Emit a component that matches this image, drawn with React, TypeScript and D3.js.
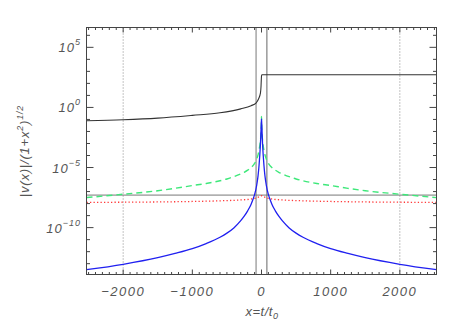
import React from "react";
import * as d3 from "d3";

// ---- data ----
const xTicksMajor = [-2000, -1000, 0, 1000, 2000];
const xTickLabels = ["\u22122000", "\u22121000", "0", "1000", "2000"];
const yTickExps = [-10, -5, 0, 5];
const yTickLabels = ["\u221210", "\u22125", "0", "5"];

const blackX = [-2530, -2000, -1500, -1000, -600, -300, -150, -80, -40, -15, -7, -3, 0, 5, 2530];
const blackY = [0.078, 0.095, 0.13, 0.22, 0.36, 0.76, 1.4, 2.3, 5.5, 16, 56, 200, 400, 525, 525];

const symX = [-2530, -2000, -1500, -1250, -1000, -800, -600, -500, -400, -300, -250, -200, -150, -120, -100, -70, -50, -35, -25, -15, -8, -3, 0,
  3, 8, 15, 25, 35, 50, 70, 100, 120, 150, 200, 250, 300, 400, 500, 600, 800, 1000, 1250, 1500, 2000, 2530];
const blueY = [3.16e-14, 8.9e-14, 3.16e-13, 7.1e-13, 1.78e-12, 4.7e-12, 1.58e-11, 3.5e-11, 9.5e-11, 3.8e-10, 8.9e-10, 2.5e-9, 8.9e-9, 2.5e-8, 5.6e-8, 3.2e-7, 2.0e-6, 1.6e-5, 1.0e-4, 1.0e-3, 1.0e-2, 5.0e-2, 0.11,
  5.0e-2, 1.0e-2, 1.0e-3, 1.0e-4, 1.6e-5, 2.0e-6, 3.2e-7, 5.6e-8, 2.5e-8, 8.9e-9, 2.5e-9, 8.9e-10, 3.8e-10, 9.5e-11, 3.5e-11, 1.58e-11, 4.7e-12, 1.78e-12, 7.1e-13, 3.16e-13, 8.9e-14, 3.16e-14];
const greenY = [3.16e-8, 6.0e-8, 1.17e-7, 1.86e-7, 3.16e-7, 4.7e-7, 7.9e-7, 1.12e-6, 1.74e-6, 2.95e-6, 4.0e-6, 6.0e-6, 1.0e-5, 1.5e-5, 2.2e-5, 5.0e-5, 1.12e-4, 2.8e-4, 6.3e-4, 1.9e-3, 6.3e-3, 3.2e-2, 0.18,
  3.2e-2, 6.3e-3, 1.9e-3, 6.3e-4, 2.8e-4, 1.12e-4, 5.0e-5, 2.2e-5, 1.5e-5, 1.0e-5, 6.0e-6, 4.0e-6, 2.95e-6, 1.74e-6, 1.12e-6, 7.9e-7, 4.7e-7, 3.16e-7, 1.86e-7, 1.17e-7, 6.0e-8, 3.16e-8];

const redX = [-2530, -2000, -1000, -600, -300, -150, -60, -20, 0, 20, 60, 150, 300, 600, 1000, 2000, 2530];
const redY = [1.26e-8, 1.3e-8, 1.5e-8, 1.7e-8, 2.0e-8, 2.4e-8, 3.2e-8, 4.0e-8, 4.5e-8, 4.0e-8, 3.2e-8, 2.4e-8, 2.0e-8, 1.7e-8, 1.5e-8, 1.3e-8, 1.26e-8];

const hLineY = 5.1e-8;
const vLinesSolid = [-78, 78];
const vLinesDotted = [-2000, 2000];

const W = 463, H = 331;
const L = 86.5, R = 436.5, T = 27.5, B = 274.5;

export default function App() {
  const x = d3.scaleLinear().domain([-2530, 2530]).range([L, R]);
  const y = d3.scaleLog().domain([Math.pow(10, -13.9), Math.pow(10, 6.65)]).range([B, T]);
  const line = d3.line<[number, number]>().x(d => x(d[0])).y(d => y(d[1])).curve(d3.curveMonotoneX);
  const pts = (xs: number[], ys: number[]) => xs.map((v, i) => [v, ys[i]] as [number, number]);

  const xMinor = d3.range(-2500, 2501, 100);
  const yMinor = d3.range(-13, 7, 1);
  const txt = "#555";
  const ax = "#444";
  const font = "'Liberation Sans', Arial, sans-serif";

  return (
    <svg width={W} height={H} style={{ position: "absolute", left: 0, top: 0, background: "#fff" }}>
      <defs>
        <clipPath id="clip"><rect x={L} y={T} width={R - L} height={B - T} /></clipPath>
      </defs>
      <g clipPath="url(#clip)">
        {vLinesDotted.map(v => (
          <line key={v} x1={x(v)} x2={x(v)} y1={T} y2={B} stroke="#888" strokeWidth={1} strokeDasharray="1,2" />
        ))}
        <line x1={x(vLinesSolid[0])} x2={x(vLinesSolid[0])} y1={T} y2={B} stroke="#b4b4b4" strokeWidth={1.8} />
        <line x1={x(vLinesSolid[1])} x2={x(vLinesSolid[1])} y1={T} y2={B} stroke="#666" strokeWidth={1} />
        <line x1={L} x2={R} y1={y(hLineY)} y2={y(hLineY)} stroke="#777" strokeWidth={1} />
        <path d={line(pts(redX, redY)) || ""} fill="none" stroke="#ff3b3b" strokeWidth={1.3} strokeDasharray="1.3,2.2" />
        <path d={line(pts(symX, greenY)) || ""} fill="none" stroke="#3ee87a" strokeWidth={1.4} strokeDasharray="6,4" />
        <path d={line(pts(symX, blueY)) || ""} fill="none" stroke="#2020f0" strokeWidth={1.3} />
        <path d={line(pts(blackX, blackY)) || ""} fill="none" stroke="#333" strokeWidth={1.1} />
      </g>
      {/* frame */}
      <rect x={L} y={T} width={R - L} height={B - T} fill="none" stroke={ax} strokeWidth={1} />
      {/* x ticks */}
      {xMinor.map(v => {
        const major = v % 1000 === 0;
        const len = major ? 5 : 2.5;
        return (
          <g key={v}>
            <line x1={x(v)} x2={x(v)} y1={B} y2={B - len} stroke={ax} />
            <line x1={x(v)} x2={x(v)} y1={T} y2={T + len} stroke={ax} />
          </g>
        );
      })}
      {/* y ticks */}
      {yMinor.map(e => {
        const major = e % 5 === 0;
        const len = major ? 7 : 3.5;
        const yy = y(Math.pow(10, e));
        return (
          <g key={e}>
            <line x1={L} x2={L + len} y1={yy} y2={yy} stroke={ax} />
            <line x1={R} x2={R - len} y1={yy} y2={yy} stroke={ax} />
          </g>
        );
      })}
      {/* x labels */}
      {xTicksMajor.map((v, i) => (
        <text key={v} x={x(v)} y={296} textAnchor="middle" fontFamily={font} fontStyle="italic" fontSize={13} fill={txt} letterSpacing={1.5}>
          {xTickLabels[i]}
        </text>
      ))}
      {/* y labels */}
      {yTickExps.map((e, i) => {
        const yy = y(Math.pow(10, e));
        return (
          <text key={e} x={81} y={yy + 5} textAnchor="end" fontFamily={font} fontStyle="italic" fontSize={13} fill={txt} letterSpacing={1}>
            10<tspan fontSize={9} dy={-7}>{yTickLabels[i]}</tspan>
          </text>
        );
      })}
      {/* x title */}
      <text x={262} y={316} textAnchor="middle" fontFamily={font} fontStyle="italic" fontSize={13} fill={txt} letterSpacing={0.5}>
        x=t/t<tspan fontSize={9} dy={3}>0</tspan>
      </text>
      {/* y title */}
      <text transform={`translate(29,${(T + B) / 2}) rotate(-90)`} textAnchor="middle" fontFamily={font} fontStyle="italic" fontSize={13} fill={txt} letterSpacing={0.8}>
        |v(x)|/(1+x<tspan fontSize={9} dy={-6}>2</tspan><tspan dy={6}>)</tspan><tspan fontSize={9} dy={-6}>1/2</tspan>
      </text>
    </svg>
  );
}
